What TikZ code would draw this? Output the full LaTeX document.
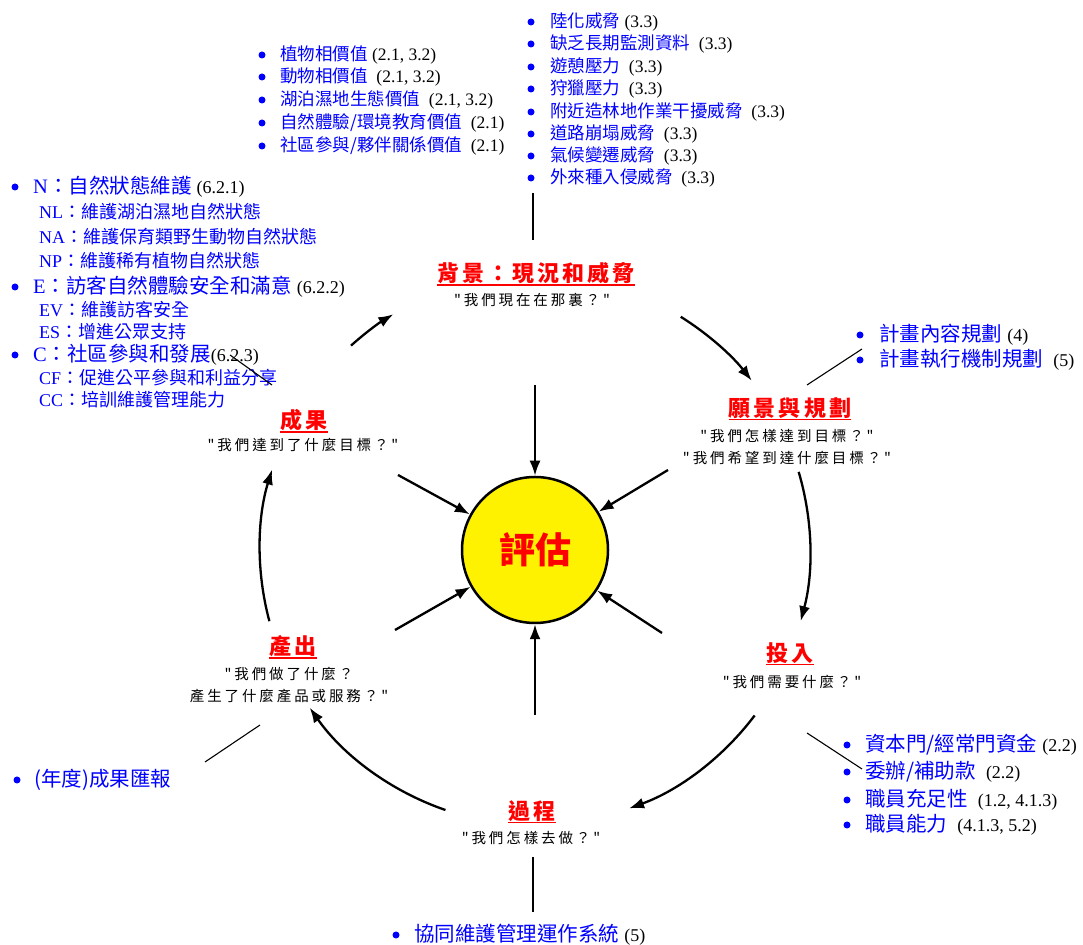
\documentclass[tikz,border=0pt]{standalone}
\usepackage{fontspec}
\setmainfont{Liberation Serif}
\newfontfamily\cjk{Noto Sans CJK TC}
\newfontfamily\cjkt[LetterSpace=14]{Noto Sans CJK TC}
\newfontfamily\cjks[LetterSpace=20]{Noto Sans CJK TC}
\usetikzlibrary{arrows.meta}
\definecolor{myblue}{RGB}{0,0,255}
\definecolor{myred}{RGB}{255,0,0}
\newcommand\bl[1]{\textcolor{myblue}{#1}}
\newcommand\bc[1]{\textcolor{myblue}{\cjk #1}}
\newcommand\nb[1]{{\fontsize{18}{20}\selectfont #1}}
\begin{document}
\begin{tikzpicture}[x=1pt,y=1pt,
 arr/.style={line width=2.3pt, -{Latex[length=15pt,width=11pt]}},
 thinline/.style={line width=1.1pt},
 bul/.style={circle, fill=myblue, inner sep=0pt, minimum size=7pt},
 item/.style={anchor=west, inner sep=0pt},
 itemA/.style={item, font=\fontsize{17.5}{20}\selectfont},
 itemB/.style={item, font=\fontsize{20.5}{22}\selectfont},
 itemC/.style={item, font=\fontsize{18}{20}\selectfont},
 ttl/.style={inner xsep=0pt, inner ysep=1pt, text=myred,
   font=\cjkt\bfseries\fontsize{22}{24}\selectfont,
   append after command={(\tikzlastnode.south west) edge[draw=myred, line width=1.6pt] (\tikzlastnode.south east)}},
 subq/.style={inner sep=0pt, font=\cjks\fontsize{14.5}{22}\selectfont, align=center},
]
\useasboundingbox (0,0) rectangle (1083,944);

% central circle
\node[circle, draw, line width=2.5pt, fill=yellow, minimum size=146pt, inner sep=0pt,
  text=myred, font=\cjk\bfseries\fontsize{36}{40}\selectfont] (ev) at (535,394) {評估};

% arrows into the circle
\coordinate (aT) at (535,559);
\coordinate (aB) at (535,229);
\coordinate (aUL) at (398,469);
\coordinate (aUR) at (668,474);
\coordinate (aLL) at (395,314);
\coordinate (aLR) at (662,311);
\foreach \p in {aT,aB,aUL,aUR,aLL,aLR} \draw[arr] (\p) -- (ev);

% cycle arcs
\coordinate (c) at (535,394);
\draw[arr] ([shift={(132:275)}]c) arc[start angle=132, end angle=121, radius=275];
\draw[arr] ([shift={(58:275)}]c) arc[start angle=58, end angle=38, radius=275];
\draw[arr] ([shift={(16.5:275)}]c) arc[start angle=16.5, end angle=-15, radius=275];
\draw[arr] ([shift={(-37:275)}]c) arc[start angle=-37, end angle=-70, radius=275];
\draw[arr] ([shift={(-109:275)}]c) arc[start angle=-109, end angle=-145, radius=275];
\draw[arr] ([shift={(-165:275)}]c) arc[start angle=-165, end angle=-197, radius=275];

% stage titles
\node[ttl] (t1) at (536,671) {背景：現況和威脅};
\node[subq] (s1) at (532,644) {"我們現在在那裏？"};
\node[ttl] (t2) at (790,536) {願景與規劃};
\node[subq] (s2) at (787,497) {"我們怎樣達到目標？"\\"我們希望到達什麼目標？"};
\node[ttl] (t3) at (790,291) {投入};
\node[subq] (s3) at (792,262) {"我們需要什麼？"};
\node[ttl] (t4) at (532,133) {過程};
\node[subq] (s4) at (531,106) {"我們怎樣去做？"};
\node[ttl] (t5) at (293,298) {產出};
\node[subq] (s5) at (289,259) {"我們做了什麼？\\產生了什麼產品或服務？"};
\node[ttl] (t6) at (304,524) {成果};
\node[subq] (s6) at (303,499) {"我們達到了什麼目標？"};

% top-middle list
\foreach \n/\yy in {1/889,2/867,3/844,4/821,5/798} \node[bul] (mb\n) at (262,\yy) {};
\node[itemA] (m1) at (280,889) {\bc{植物相價值} (2.1, 3.2)};
\node[itemA] (m2) at (280,867) {\bc{動物相價值}\ \ (2.1, 3.2)};
\node[itemA] (m3) at (280,844) {\bc{湖泊濕地生態價值}\ \ (2.1, 3.2)};
\node[itemA] (m4) at (280,821) {\bc{自然體驗/環境教育價值}\ \ (2.1)};
\node[itemA] (m5) at (280,798) {\bc{社區參與/夥伴關係價值}\ \ (2.1)};

% top-right list
\foreach \n/\yy in {1/922,2/900,3/877,4/855,5/832,6/810,7/788,8/766} \node[bul] (rb\n) at (531,\yy) {};
\node[itemA] (r1) at (550,922) {\bc{陸化威脅} (3.3)};
\node[itemA] (r2) at (550,900) {\bc{缺乏長期監測資料}\ \ (3.3)};
\node[itemA] (r3) at (550,877) {\bc{遊憩壓力}\ \ (3.3)};
\node[itemA] (r4) at (550,855) {\bc{狩獵壓力}\ \ (3.3)};
\node[itemA] (r5) at (550,832) {\bc{附近造林地作業干擾威脅}\ \ (3.3)};
\node[itemA] (r6) at (550,810) {\bc{道路崩塌威脅}\ \ (3.3)};
\node[itemA] (r7) at (550,788) {\bc{氣候變遷威脅}\ \ (3.3)};
\node[itemA] (r8) at (550,766) {\bc{外來種入侵威脅}\ \ (3.3)};
\coordinate (rl1) at (533,751);
\coordinate (rl2) at (533,704);
\draw[thinline] (rl1) -- (rl2);

% left list
\node[bul] (lbN) at (15,757) {};
\node[bul] (lbE) at (15,657) {};
\node[bul] (lbC) at (15,589) {};
\node[itemB] (lN) at (33,757) {\bl{N}\bc{：自然狀態維護} \nb{(6.2.1)}};
\node[itemC] (lNL) at (39,732) {\bl{NL}\bc{：維護湖泊濕地自然狀態}};
\node[itemC] (lNA) at (39,707) {\bl{NA}\bc{：維護保育類野生動物自然狀態}};
\node[itemC] (lNP) at (39,683) {\bl{NP}\bc{：維護稀有植物自然狀態}};
\node[itemB] (lE) at (33,657) {\bl{E}\bc{：訪客自然體驗安全和滿意} \nb{(6.2.2)}};
\node[itemC] (lEV) at (39,634) {\bl{EV}\bc{：維護訪客安全}};
\node[itemC] (lES) at (39,612) {\bl{ES}\bc{：增進公眾支持}};
\node[itemB] (lC) at (33,589) {\bl{C}\bc{：社區參與和發展}\nb{(6.2.3)}};
\node[itemC] (lCF) at (39,566) {\bl{CF}\bc{：促進公平參與和利益分享}};
\node[itemC] (lCC) at (39,544) {\bl{CC}\bc{：培訓維護管理能力}};
\coordinate (ll1) at (230,589);
\coordinate (ll2) at (272,559);
\draw[thinline] (ll1) -- (ll2);

% right list
\node[bul] (pb1) at (860,609) {};
\node[bul] (pb2) at (860,584) {};
\node[itemB] (p1) at (879,609) {\bc{計畫內容規劃} \nb{(4)}};
\node[itemB] (p2) at (879,584) {\bc{計畫執行機制規劃}\ \ \nb{(5)}};
\coordinate (pl1) at (807,559);
\coordinate (pl2) at (862,595);
\draw[thinline] (pl1) -- (pl2);

% bottom-right list
\foreach \n/\yy in {1/199,2/172,3/144,4/119} \node[bul] (ib\n) at (847,\yy) {};
\node[itemB] (i1) at (865,199) {\bc{資本門/經常門資金} \nb{(2.2)}};
\node[itemB] (i2) at (865,172) {\bc{委辦/補助款}\ \ \nb{(2.2)}};
\node[itemB] (i3) at (865,144) {\bc{職員充足性}\ \ \nb{(1.2, 4.1.3)}};
\node[itemB] (i4) at (865,119) {\bc{職員能力}\ \ \nb{(4.1.3, 5.2)}};
\coordinate (il1) at (807,211);
\coordinate (il2) at (862,175);
\draw[thinline] (il1) -- (il2);

% bottom-left
\node[bul] (ob) at (17,164) {};
\node[itemB] (o1) at (34,164) {\bc{(年度)成果匯報}};
\coordinate (ol1) at (205,182);
\coordinate (ol2) at (260,219);
\draw[thinline] (ol1) -- (ol2);

% bottom
\coordinate (bl1) at (533,87);
\coordinate (bl2) at (533,32);
\draw[thinline] (bl1) -- (bl2);
\node[bul] (bb) at (396,9) {};
\node[itemB] (b1) at (414,9) {\bc{協同維護管理運作系統} \nb{(5)}};
\end{tikzpicture}
\end{document}
